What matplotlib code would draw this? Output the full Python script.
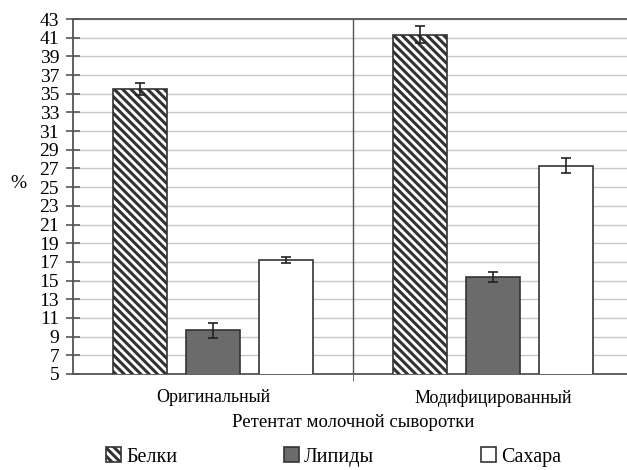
import numpy as np
import matplotlib
matplotlib.use('Agg')
import matplotlib.pyplot as plt
from matplotlib.patches import Patch

plt.rcParams['font.family'] = ['Liberation Serif', 'DejaVu Serif']
plt.rcParams['hatch.linewidth'] = 2.2
plt.rcParams['hatch.color'] = '#222222'

categories = ['Оригинальный', 'Модифицированный']
series = ['Белки', 'Липиды', 'Сахара']
belki = [35.5, 41.3]
lipidy = [9.7, 15.4]
sahara = [17.2, 27.3]
belki_err = [0.6, 0.9]
lipidy_err = [0.8, 0.5]
sahara_err = [0.3, 0.8]

edge = '#333333'
hatch = '\\' * 4
fig = plt.figure(figsize=(6.27, 4.70), dpi=100)
ax = fig.add_axes([73 / 627, 1 - 374 / 470, 560 / 627, 355 / 470])

x = np.arange(len(categories))
w = 0.193
off = 0.26
err_kw = dict(ecolor='#222222', elinewidth=1.2, capsize=3.5, capthick=1.2)
ax.bar(x - off, belki, w, color='white', edgecolor=edge, hatch=hatch,
       linewidth=1.2, yerr=belki_err, error_kw=err_kw, zorder=3)
ax.bar(x, lipidy, w, color='#6b6b6b', edgecolor=edge, linewidth=1.2,
       yerr=lipidy_err, error_kw=err_kw, zorder=3)
ax.bar(x + off, sahara, w, color='white', edgecolor=edge, linewidth=1.2,
       yerr=sahara_err, error_kw=err_kw, zorder=3)

ax.set_ylim(5, 43)
ax.set_yticks(np.arange(5, 44, 2))
ax.set_xlim(-0.5, 1.5)
ax.set_xticks(x)
ax.set_xticklabels(categories, fontsize=13)
ax.tick_params(axis='x', length=0, pad=11)
ax.set_xticks([0.5], minor=True)
ax.tick_params(axis='x', which='minor', length=5, direction='out', color='#555555')
ax.axvline(0.5, color='#555555', linewidth=1.0, zorder=2)
ax.tick_params(axis='y', labelsize=14, length=10, direction='inout', color='#555555',
               width=1.2, pad=5)
ax.yaxis.grid(True, color='#c8c8c8', linewidth=1.0, zorder=0)
ax.set_axisbelow(True)
for s in ax.spines.values():
    s.set_color('#555555')
    s.set_linewidth(1.3)

ax.set_xlabel('Ретентат молочной сыворотки', fontsize=13.5, labelpad=5)
fig.text(10 / 627, 1 - 183 / 470, '%', fontsize=14, va='center', ha='left')

handles = [Patch(facecolor='white', edgecolor=edge, hatch=hatch, linewidth=1.2),
           Patch(facecolor='#6b6b6b', edgecolor=edge, linewidth=1.2),
           Patch(facecolor='white', edgecolor=edge, linewidth=1.2)]
fig.legend(handles, series, loc='center', bbox_to_anchor=(0.532, 1 - 457 / 470), ncol=3,
           frameon=False, fontsize=14.5, handlelength=0.75, handleheight=0.75,
           handletextpad=0.25, columnspacing=5.3, borderpad=0.2)

fig.savefig('out.png', dpi=100)
